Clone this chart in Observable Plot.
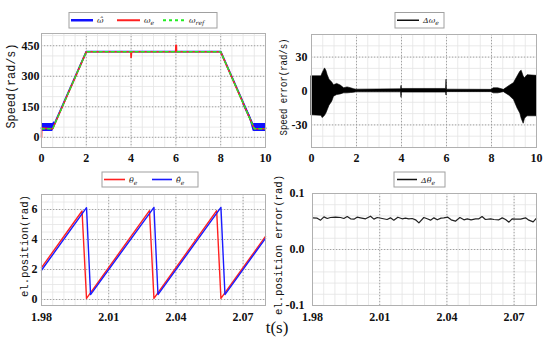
<!DOCTYPE html>
<html><head><meta charset="utf-8">
<script src="https://cdn.jsdelivr.net/npm/d3@7"></script>
<script src="https://cdn.jsdelivr.net/npm/@observablehq/plot@0.6"></script>
<style>
body{margin:0;background:#fff;}
#wrap{position:relative;width:550px;height:339px;overflow:hidden;background:#fff;}
#wrap > svg{position:absolute;}
</style></head><body><div id="wrap"></div>
<script>
// ---------- Panel 1: speed (rad/s) vs t (s) ----------
const refT = [0, 0.5, 2, 8, 9.5, 10];
const refV = [42, 42, 420, 420, 42, 42];
const estT = [0, 0.5, 2, 8, 9.5, 10];
const estV = [46, 46, 421, 421, 46, 46];
const estBandLT = [0, 0.5, 0.58];
const estBandLLo = [28, 28, 50];
const estBandLHi = [68, 68, 78];
const estBandRT = [9.0, 9.3, 9.45, 9.5, 10];
const estBandRLo = [158, 88, 30, 28, 28];
const estBandRHi = [178, 110, 66, 68, 68];
const actT = [0, 0.01, 0.5, 2, 3.99, 4.0, 4.02, 5.99, 6.0, 6.02, 6.03, 8, 9.5, 10];
const actV = [0, 45, 42, 420, 420, 392, 420, 420, 452, 452, 420, 420, 42, 42];
const p1XTicks = [0, 2, 4, 6, 8, 10];
const p1YTicks = [0, 150, 300, 450];

// ---------- Panel 2: speed error envelope ----------
const errT  = [0, 0.44, 0.5, 0.6, 0.66, 0.72, 0.8, 0.92, 1.0, 1.14, 1.3, 1.45, 1.6, 1.75, 1.9, 2.0,
               3.98, 4.0, 4.02, 5.98, 6.0, 6.02, 8.0, 8.1, 8.3, 8.55, 8.8, 9.0, 9.16, 9.28, 9.34, 9.43, 9.49, 9.6, 10];
const errHi = [13, 13, 16, 20, 18, 14, 10, 7.5, 5, 6.3, 4.8, 2.4, 3.2, 2.5, 1.5, 1.2,
               1.5, 4.5, 1.8, 1.8, 10, 1.2, 1.0, 2.4, 2.4, 1.0, 4.5, 7, 12.8, 17, 18, 12.8, 11.3, 14, 13.4];
const errLo = [-21.5, -22, -24, -22, -20, -17, -13, -9.5, -5, -3.6, -3, -2.1, -2.1, -1.8, -1.5, -1.2,
               -1.2, -6, -1.4, -1.4, -4, -1.0, -1.0, -2.1, -2.1, -1.0, -4.2, -8, -15.5, -20, -24.5, -29, -24.5, -22.4, -22.4];
const p2XTicks = [0, 2, 4, 6, 8, 10];
const p2YTicks = [-30, 0, 30];

// ---------- Panel 3: electrical position (rad) ----------
const thT   = [1.98, 1.9981, 2.0001, 2.0282, 2.0302, 2.0582, 2.0601, 2.08];
const thV   = [2.12, 5.90, 0.07, 5.92, 0.07, 5.92, 0.07, 4.21];
const thEstT = [1.98, 2.0001, 2.0019, 2.0302, 2.0320, 2.0601, 2.0619, 2.08];
const thEstV = [1.95, 6.12, 0.33, 6.14, 0.33, 6.14, 0.33, 4.08];
const p3XTicks = [1.98, 2.01, 2.04, 2.07];
const p3YTicks = [0, 2, 4, 6];

// ---------- Panel 4: electrical position error (rad) ----------
const pErrT = [1.9800, 1.9821, 1.9836, 1.9851, 1.9866, 1.9880, 1.9903, 1.9925, 1.9940, 1.9955, 1.9970, 1.9985,
               1.9999, 2.0014, 2.0037, 2.0059, 2.0074, 2.0089, 2.0111, 2.0133, 2.0148, 2.0163, 2.0181, 2.0200,
               2.0215, 2.0230, 2.0245, 2.0260, 2.0275, 2.0297, 2.0312, 2.0327, 2.0342, 2.0357, 2.0374, 2.0386,
               2.0404, 2.0419, 2.0438, 2.0458, 2.0476, 2.0491, 2.0508, 2.0528, 2.0543, 2.0557, 2.0572, 2.0595,
               2.0610, 2.0632, 2.0647, 2.0662, 2.0677, 2.0691, 2.0706, 2.0729, 2.0751, 2.0766, 2.0785, 2.0800];
const pErrV = [0.0565, 0.0560, 0.0524, 0.0583, 0.0554, 0.0571, 0.0577, 0.0571, 0.0554, 0.0589, 0.0548, 0.0542,
               0.0577, 0.0565, 0.0548, 0.0595, 0.0542, 0.0571, 0.0554, 0.0536, 0.0565, 0.0524, 0.0577, 0.0548,
               0.0560, 0.0548, 0.0554, 0.0530, 0.0476, 0.0571, 0.0548, 0.0524, 0.0565, 0.0530, 0.0560, 0.0565,
               0.0577, 0.0530, 0.0506, 0.0571, 0.0530, 0.0548, 0.0530, 0.0548, 0.0548, 0.0589, 0.0536, 0.0548,
               0.0536, 0.0530, 0.0565, 0.0536, 0.0488, 0.0548, 0.0542, 0.0542, 0.0565, 0.0524, 0.0494, 0.0560];
const p4XTicks = [1.98, 2.01, 2.04, 2.07];
const p4YTicks = [-0.1, 0.0, 0.1];

const zip = (T, V) => T.map((t, i) => ({t, v: V[i]}));
const zip3 = (T, L, H) => T.map((t, i) => ({t, lo: L[i], hi: H[i]}));

const wrap = document.getElementById("wrap");
const TICK_FONT = "Liberation Serif";

function panel(o) {
  const p = Plot.plot({
    width: o.width, height: o.height,
    marginTop: o.mt, marginRight: o.mr, marginBottom: o.mb, marginLeft: o.ml,
    x: {domain: o.xDomain},
    y: {domain: o.yDomain},
    style: {fontFamily: TICK_FONT, fontSize: "12px", background: "transparent", color: "#111"},
    marks: [
      Plot.ruleX(o.xMinor, {stroke: "#e4e4e4", strokeWidth: 0.8}),
      Plot.ruleY(o.yMinor, {stroke: "#e4e4e4", strokeWidth: 0.8}),
      Plot.ruleX(o.xTicks, {stroke: "#9a9a9a", strokeDasharray: "1.2,1.8", strokeWidth: 0.9}),
      Plot.ruleY(o.yTicks, {stroke: "#9a9a9a", strokeDasharray: "1.2,1.8", strokeWidth: 0.9}),
      ...o.marks,
      Plot.frame({stroke: "#b0b0b0", strokeWidth: 1}),
      Plot.axisX(o.xTicks, {tickSize: 0, tickPadding: o.xPad ?? 6, tickFormat: o.xFmt, label: null}),
      Plot.axisY(o.yTicks, {tickSize: 0, tickPadding: o.yPad ?? 3, tickFormat: o.yFmt, label: null})
    ]
  });
  p.style.left = o.left + "px";
  p.style.top = o.top + "px";
  p.style.fontFamily = TICK_FONT;
  d3.select(p).selectAll("g[aria-label$='tick label']")
    .attr("font-family", TICK_FONT).attr("font-weight", "bold")
    .style("font-family", TICK_FONT).style("font-weight", "bold");
  d3.select(p).selectAll("text")
    .attr("font-family", TICK_FONT).style("font-family", TICK_FONT).style("font-weight", "bold");
  wrap.appendChild(p);
}

const minor = (a, b, s) => d3.range(Math.round((b - a) / s) + 1).map(i => +(a + i * s).toFixed(6));

// Panel 1
panel({
  left: 0, top: 0, width: 275, height: 170, mt: 33, mr: 10, mb: 23, ml: 41,
  xDomain: [0, 10], yDomain: [-50, 510],
  xTicks: p1XTicks, yTicks: p1YTicks, xMinor: minor(0, 10, 0.5), yMinor: minor(-50, 500, 50),
  xFmt: d => String(d), yFmt: d => String(d), yPad: 2,
  marks: [
    Plot.areaY(zip3(estBandLT, estBandLLo, estBandLHi), {x: "t", y1: "lo", y2: "hi", fill: "#1010ff"}),
    Plot.areaY(zip3(estBandRT, estBandRLo, estBandRHi), {x: "t", y1: "lo", y2: "hi", fill: "#1010ff"}),
    Plot.line(zip(estT, estV), {x: "t", y: "v", stroke: "#1010ff", strokeWidth: 1.8}),
    Plot.line(zip(actT, actV), {x: "t", y: "v", stroke: "#ff2020", strokeWidth: 1.6}),
    Plot.line(zip(refT, refV), {x: "t", y: "v", stroke: "#22ee22", strokeWidth: 1.4, strokeDasharray: "3,3"})
  ]
});

// Panel 2
panel({
  left: 275, top: 0, width: 275, height: 170, mt: 34, mr: 14, mb: 23, ml: 36,
  xDomain: [0, 10], yDomain: [-50, 50],
  xTicks: p2XTicks, yTicks: p2YTicks, xMinor: minor(0, 10, 0.5), yMinor: minor(-50, 50, 10),
  xFmt: d => String(d), yFmt: d => String(d), yPad: 4,
  marks: [
    Plot.areaY(zip3(errT, errLo, errHi), {x: "t", y1: "lo", y2: "hi", fill: "#000", stroke: "#000", strokeWidth: 0.6})
  ]
});

// Panel 3
panel({
  left: 0, top: 165, width: 275, height: 174, mt: 29, mr: 10, mb: 34, ml: 41,
  xDomain: [1.98, 2.08], yDomain: [-0.4, 7],
  xTicks: p3XTicks, yTicks: p3YTicks, xMinor: minor(1.98, 2.08, 0.005), yMinor: minor(0, 7, 0.5),
  xFmt: d => d.toFixed(2), yFmt: d => String(d), yPad: 4, xPad: 7,
  marks: [
    Plot.line(zip(thT, thV), {x: "t", y: "v", stroke: "#ff2020", strokeWidth: 1.4}),
    Plot.line(zip(thEstT, thEstV), {x: "t", y: "v", stroke: "#1a1aff", strokeWidth: 1.4})
  ]
});

// Panel 4
panel({
  left: 275, top: 165, width: 275, height: 174, mt: 28, mr: 14, mb: 34, ml: 37,
  xDomain: [1.98, 2.08], yDomain: [-0.1, 0.1],
  xTicks: p4XTicks, yTicks: p4YTicks, xMinor: minor(1.98, 2.08, 0.005), yMinor: minor(-0.1, 0.1, 0.02),
  xFmt: d => d.toFixed(2), yFmt: d => d.toFixed(1), yPad: 8, xPad: 7,
  marks: [
    Plot.line(zip(pErrT, pErrV), {x: "t", y: "v", stroke: "#222", strokeWidth: 1.2})
  ]
});

// ---------- Overlay: legends, axis titles ----------
const svg = d3.select(wrap).append("svg")
  .attr("width", 550).attr("height", 339)
  .style("left", "0px").style("top", "0px").style("pointer-events", "none");

function legend(box, items) {
  svg.append("rect").attr("x", box[0]).attr("y", box[1]).attr("width", box[2]).attr("height", box[3])
    .attr("fill", "#fff").attr("stroke", "#a0a0a0").attr("stroke-width", 1);
  const cy = box[1] + box[3] / 2;
  for (const it of items) {
    svg.append("line").attr("x1", it.x1).attr("x2", it.x2).attr("y1", cy).attr("y2", cy)
      .attr("stroke", it.color).attr("stroke-width", it.w || 2).attr("stroke-dasharray", it.dash || null);
    const t = svg.append("text").attr("x", it.x2 + 4).attr("y", cy + 3)
      .attr("font-family", "DejaVu Serif").style("font-style", "italic").style("font-size", "8px").attr("fill", "#222");
    t.append("tspan").text(it.main);
    if (it.sub) t.append("tspan").attr("dy", 2).style("font-size", "6px").text(it.sub);
  }
}
legend([69, 12.5, 148, 15.5], [
  {x1: 71, x2: 93, color: "#1010ff", w: 2.5, main: "ω\u0302"},
  {x1: 117, x2: 140, color: "#ff2020", w: 2, main: "ω", sub: "e"},
  {x1: 163, x2: 185, color: "#22ee22", w: 2, dash: "3,3", main: "ω", sub: "ref"}
]);
legend([395, 12.5, 49, 15.5], [
  {x1: 397, x2: 419, color: "#111", w: 1.5, main: "Δω", sub: "e"}
]);
legend([102, 172, 96, 15], [
  {x1: 104, x2: 125, color: "#ff2020", w: 1.6, main: "θ", sub: "e"},
  {x1: 152, x2: 172, color: "#1a1aff", w: 1.6, main: "θ\u0302", sub: "e"}
]);
legend([394, 172, 51, 15], [
  {x1: 397, x2: 417, color: "#111", w: 1.5, main: "Δθ", sub: "e"}
]);

function ylabel(x, y, len, size, txt) {
  svg.append("text").attr("transform", `translate(${x},${y}) rotate(-90)`)
    .attr("text-anchor", "middle").attr("textLength", len).attr("lengthAdjust", "spacingAndGlyphs")
    .attr("font-family", "Liberation Mono").style("font-size", size + "px").attr("fill", "#111")
    .text(txt);
}
ylabel(15, 86, 85, 12, "Speed(rad/s)");
ylabel(287, 87, 97, 11, "Speed error(rad/s)");
ylabel(28, 246, 102, 11, "el.position(rad)");
ylabel(282, 245, 140, 11, "el.position error(rad)");

svg.append("text").attr("x", 277).attr("y", 333).attr("text-anchor", "middle")
  .attr("font-family", "Liberation Serif").style("font-size", "17px").attr("fill", "#111")
  .text("t(s)");
</script></body></html>
